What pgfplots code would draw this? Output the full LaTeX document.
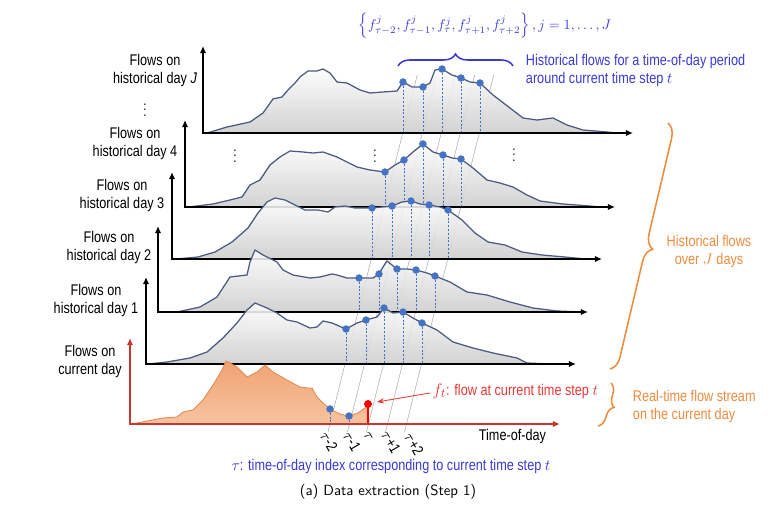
\documentclass[border=0pt]{standalone}
\usepackage{pgfplots}
\pgfplotsset{compat=1.18}
\usepackage{fontspec}
\setmainfont{Liberation Sans}[FakeStretch=0.82]
\usetikzlibrary{arrows.meta,decorations.pathreplacing}

\definecolor{curve}{HTML}{4B5B82}
\definecolor{dotblue}{HTML}{4472C4}
\definecolor{bluetext}{HTML}{3A3AD4}
\definecolor{orangetext}{HTML}{ED8B3F}
\definecolor{redaxis}{HTML}{C8372D}
\definecolor{redtext}{HTML}{E53935}
\definecolor{curfill}{HTML}{F0A272}
\definecolor{curfilllight}{HTML}{F6C4A0}
\definecolor{curline}{HTML}{E08850}

\newcommand\lab{\fontsize{11}{12.8}\selectfont}
\newcommand\fml{\fontsize{10}{12}\selectfont}
\newcommand\ftfont{\fontsize{13}{14}\selectfont}
\newcommand\capfont{\sffamily\fontsize{10.5}{12}\selectfont}
\newcommand\fj[1]{f^{j}_{#1}}
\newcommand\formulatext{$\left\{\fj{\tau-2}, \fj{\tau-1}, \fj{\tau}, \fj{\tau+1}, \fj{\tau+2}\right\}, j = 1, \ldots, J$}
\newcommand\fttext{{\ftfont$f_t$}: flow at current time step $t$}
\newcommand\tautext{$\tau$: time-of-day index corresponding to current time step $t$}
\tikzset{
  dayfill/.style={draw=curve, line width=0.9pt, top color=gray!2, bottom color=gray!40, fill opacity=0.88},
  axarrow/.style={>={Latex[length=5pt,width=4.5pt]}, <->},
  redarrow/.style={>={Stealth[length=5pt]}, ->},
  dropline/.style={color=dotblue, dash pattern=on 1.5pt off 1.2pt, line width=0.55pt},
  idxline/.style={color=gray!65, line width=0.4pt},
}
% dashed drop line from a dot to its baseline
\newcommand\dropat[3]{\addplot[dropline] coordinates {(#1,#2) (#1,#3)};}
% historical-day axes: x, top, baseline, arrow end
\newcommand\dayaxes[4]{\addplot[black, line width=1.3pt, axarrow] coordinates {(#1,#2) (#1,#3) (#4,#3)};}

\begin{document}
\begin{tikzpicture}
\begin{axis}[
  scale only axis, width=193.75mm, height=126.5mm,
  xmin=0, xmax=775, ymin=0, ymax=506, y dir=reverse,
  hide axis, clip=false]

\addplot[draw=none] coordinates {(0,0) (775,506)};

% time-of-day index lines across the days
\addplot[idxline] coordinates {(328,432) (417.25,75)};
\addplot[idxline] coordinates {(347.5,432) (436.75,75)};
\addplot[idxline] coordinates {(366.5,432) (455.75,75)};
\addplot[idxline] coordinates {(385.5,432) (474.75,75)};
\addplot[idxline] coordinates {(404.5,432) (493.75,75)};

% ---- historical day J
\addplot[dayfill] coordinates {(207,133) (227,127) (250,122) (263,113) (273,99) (282,97) (288,90) (295,83) (300,77) (308,71) (317,71) (323,69) (330,73) (337,82) (347,83) (360,90) (370,93) (383,92) (397,91) (403,82) (412,87) (423,87) (430,83) (435,70) (442,69) (452,75) (461,78) (470,82) (480,83) (493,95) (510,108) (523,118) (537,120) (553,118) (567,125) (583,130) (607,132) (615,133)};
\dropat{403}{82}{133}\dropat{423}{87}{133}\dropat{442}{69}{133}\dropat{461}{78}{133}\dropat{480}{83}{133}
\dayaxes{203}{46}{133}{633}
\addplot[only marks, mark=*, mark size=2.4pt, dotblue] coordinates {(403,82) (423,87) (442,69) (461,78) (480,83)};

% ---- historical day 4
\addplot[dayfill] coordinates {(189,207) (213,204) (230,200) (242,197) (250,185) (260,180) (270,165) (280,157) (290,151) (303,152) (313,153) (323,152) (337,157) (347,162) (357,167) (370,170) (385,172) (395,165) (404,160) (413,152) (423,144) (433,152) (443,155) (452,158) (461,159) (473,168) (487,180) (500,183) (513,187) (527,195) (540,201) (563,204) (590,206) (600,207)};
\dropat{385}{172}{207}\dropat{404}{160}{207}\dropat{423}{144}{207}\dropat{443}{155}{207}\dropat{461}{159}{207}
\dayaxes{185}{120}{207}{615}
\addplot[only marks, mark=*, mark size=2.4pt, dotblue] coordinates {(385,172) (404,160) (423,144) (443,155) (461,159)};

% ---- historical day 3
\addplot[dayfill] coordinates {(176,259) (198,257) (215,252) (232,242) (248,228) (258,213) (267,202) (275,198) (285,200) (295,205) (305,210) (318,210) (328,212) (335,207) (345,206) (355,208) (372,208) (382,207) (392,206) (402,202) (411,201) (420,204) (429,205) (440,207) (448,210) (462,220) (475,233) (488,242) (505,245) (522,252) (542,255) (565,257) (585,259)};
\dropat{372}{208}{259}\dropat{392}{206}{259}\dropat{411}{201}{259}\dropat{429}{205}{259}\dropat{448}{210}{259}
\dayaxes{172}{172}{259}{602}
\addplot[only marks, mark=*, mark size=2.4pt, dotblue] coordinates {(372,208) (392,206) (411,201) (429,205) (448,210)};

% ---- historical day 2
\addplot[dayfill] coordinates {(160,312) (177,312) (200,307) (217,297) (230,277) (247,275) (250,262) (255,250) (263,255) (277,262) (283,270) (293,275) (310,278) (320,277) (332,274) (337,275) (347,278) (359,278) (373,278) (379,274) (383,267) (387,261) (397,269) (407,269) (416,270) (427,273) (435,276) (450,282) (467,292) (487,295) (510,302) (533,308) (557,311) (583,312)};
\dropat{359}{278}{312}\dropat{379}{274}{312}\dropat{397}{269}{312}\dropat{416}{270}{312}\dropat{435}{276}{312}
\dayaxes{158}{226}{312}{588}
\addplot[only marks, mark=*, mark size=2.4pt, dotblue] coordinates {(359,278) (379,274) (397,269) (416,270) (435,276)};

% ---- historical day 1
\addplot[dayfill] coordinates {(148,364) (167,362) (190,358) (207,352) (223,338) (237,323) (247,310) (255,303) (267,308) (277,313) (287,320) (297,322) (310,328) (317,327) (323,321) (332,323) (346,329) (357,323) (366,320) (377,317) (384,308) (393,313) (403,312) (413,318) (422,323) (437,330) (453,342) (473,348) (493,353) (517,358) (527,363) (550,364) (567,364)};
\dropat{346}{329}{364}\dropat{366}{320}{364}\dropat{384}{308}{364}\dropat{403}{312}{364}\dropat{422}{323}{364}
\dayaxes{146}{277}{364}{576}
\addplot[only marks, mark=*, mark size=2.4pt, dotblue] coordinates {(346,329) (366,320) (384,308) (403,312) (422,323)};

% ---- current day
\addplot[draw=curline, line width=0.6pt, top color=curfill, bottom color=curfilllight] coordinates {(132,424) (147,421) (163,418) (177,417) (183,412) (193,410) (203,400) (213,385) (222,370) (226,361) (230,363) (237,367) (247,377) (257,372) (265,365) (273,372) (287,380) (300,387) (308,388) (312,388) (317,397) (323,403) (330,409) (340,414) (349,416) (358,413) (365,408) (368,404) (368,424)};
\dropat{330}{409}{424}\dropat{349}{416}{424}
\addplot[redaxis, line width=1.3pt, axarrow] coordinates {(130,338) (130,424) (560,424)};
\addplot[only marks, mark=*, mark size=2.4pt, dotblue] coordinates {(330,409) (349,416)};
\addplot[red, line width=1.5pt] coordinates {(368,424) (368,405)};
\addplot[only marks, mark=*, mark size=2.6pt, red] coordinates {(368,404)};

% anchor points for the annotations drawn after the axis
\coordinate (labJ) at (axis cs:155,71);
\coordinate (lab4) at (axis cs:135,144);
\coordinate (lab3) at (axis cs:122,196);
\coordinate (lab2) at (axis cs:109,248);
\coordinate (lab1) at (axis cs:96,301);
\coordinate (lab0) at (axis cs:90,362);
\coordinate (el1) at (axis cs:145,106);
\coordinate (el2) at (axis cs:235,152);
\coordinate (el3) at (axis cs:375,152);
\coordinate (el4) at (axis cs:514,151);
\coordinate (formula) at (axis cs:485,26);
\coordinate (bbA) at (axis cs:398,66);
\coordinate (bbB) at (axis cs:513,66);
\coordinate (histtxt) at (axis cs:521,71);
\coordinate (obA) at (axis cs:668,123);
\coordinate (obB) at (axis cs:610,369);
\coordinate (jdays) at (axis cs:709,252);
\coordinate (osA) at (axis cs:611,383);
\coordinate (osB) at (axis cs:598,426);
\coordinate (rttxt) at (axis cs:628,407);
\coordinate (arA) at (axis cs:430,393);
\coordinate (arB) at (axis cs:377,402);
\coordinate (fttxt) at (axis cs:431,391);
\coordinate (tod) at (axis cs:551,437);
\coordinate (t1) at (axis cs:329,441);
\coordinate (t2) at (axis cs:352,441);
\coordinate (t3) at (axis cs:368,437);
\coordinate (t4) at (axis cs:391,442);
\coordinate (t5) at (axis cs:414,444);
\coordinate (tautxt) at (axis cs:391,467);
\coordinate (cap) at (axis cs:388,492);
\end{axis}

% ---- y labels
\node[align=center, font=\lab] at (labJ) {Flows on\\historical day \textit{J}};
\node[align=center, font=\lab] at (lab4) {Flows on\\historical day 4};
\node[align=center, font=\lab] at (lab3) {Flows on\\historical day 3};
\node[align=center, font=\lab] at (lab2) {Flows on\\historical day 2};
\node[align=center, font=\lab] at (lab1) {Flows on\\historical day 1};
\node[align=center, font=\lab] at (lab0) {Flows on\\current day};

% ellipses
\node at (el1) {$\vdots$};
\node at (el2) {$\vdots$};
\node at (el3) {$\vdots$};
\node at (el4) {$\vdots$};

% ---- top formula and brace
\node[bluetext, font=\fml] at (formula) {\formulatext};
\draw[bluetext, line width=1.1pt, decorate, decoration={brace, amplitude=3mm}] (bbA) -- (bbB);
\node[bluetext, align=left, anchor=west, font=\lab] at (histtxt) {Historical flows for a time-of-day period\\around current time step $t$};

% ---- orange braces and notes
\draw[orangetext, line width=1.1pt, decorate, decoration={brace, amplitude=3.5mm}] (obA) -- (obB);
\node[orangetext, align=center, font=\lab] at (jdays) {Historical flows\\over $J$ days};
\draw[orangetext, line width=1.1pt, decorate, decoration={brace, amplitude=2.5mm}] (osA) -- (osB);
\node[orangetext, align=left, anchor=west, font=\lab] at (rttxt) {Real-time flow stream\\on the current day};

% ---- current flow note
\draw[redtext, line width=0.6pt, redarrow] (arA) -- (arB);
\node[redtext, anchor=west, font=\lab, inner sep=1pt] at (fttxt) {\fttext};

% ---- time axis labels
\node[anchor=east, font=\lab] at (tod) {Time-of-day};
\node[rotate=-60, font=\lab, inner sep=0pt] at (t1) {$\tau$-2};
\node[rotate=-60, font=\lab, inner sep=0pt] at (t2) {$\tau$-1};
\node[rotate=-60, font=\lab, inner sep=0pt] at (t3) {$\tau$};
\node[rotate=-60, font=\lab, inner sep=0pt] at (t4) {$\tau$+1};
\node[rotate=-60, font=\lab, inner sep=0pt] at (t5) {$\tau$+2};

\node[bluetext, font=\lab] at (tautxt) {\tautext};
\node[font=\capfont] at (cap) {(a) Data extraction (Step 1)};
\end{tikzpicture}
\end{document}
